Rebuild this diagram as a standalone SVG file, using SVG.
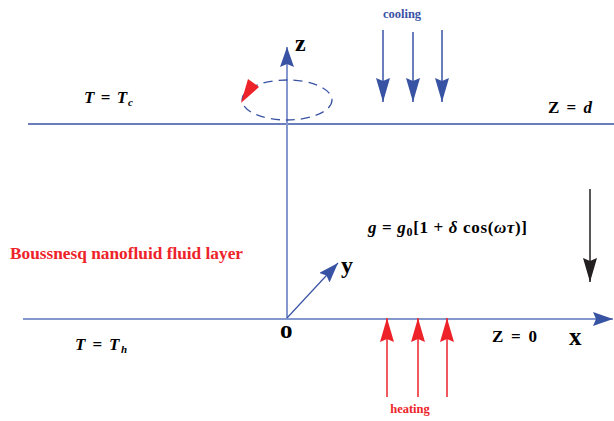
<svg xmlns="http://www.w3.org/2000/svg" width="614" height="421" viewBox="0 0 614 421">
<style>
text{font-family:"Liberation Serif","Times New Roman",serif;font-weight:bold;fill:#000}
.it{font-style:italic}
.blue{fill:#3953a4}
.red{fill:#ee2229}
.ax{stroke:#8497cf;stroke-width:2;fill:none}
.ln{stroke:#3953a4;stroke-width:1.5;fill:none}
.cool{stroke:#3953a4;stroke-width:1.5}
.heat{stroke:#ee2229;stroke-width:1.5}
</style>
<defs>
<marker id="hb" viewBox="0 0 20 14" refX="20" refY="7" markerWidth="20" markerHeight="14" markerUnits="userSpaceOnUse" orient="auto"><path d="M0,0 L20,7 L0,14 L3,7 Z" fill="#3953a4"/></marker>
<marker id="hr" viewBox="0 0 24 14" refX="24" refY="7" markerWidth="24" markerHeight="14" markerUnits="userSpaceOnUse" orient="auto"><path d="M0,0 L24,7 L0,14 L3,7 Z" fill="#ee2229"/></marker>
<marker id="hk" viewBox="0 0 24 14" refX="24" refY="7" markerWidth="24" markerHeight="14" markerUnits="userSpaceOnUse" orient="auto"><path d="M0,0 L24,7 L0,14 L3,7 Z" fill="#231f20"/></marker>
<marker id="hc" viewBox="0 0 24 14" refX="24" refY="7" markerWidth="24" markerHeight="14" markerUnits="userSpaceOnUse" orient="auto"><path d="M0,0 L24,7 L0,14 L3,7 Z" fill="#3953a4"/></marker>
</defs>

<g id="connectors">
<line id="top-boundary" class="ln" x1="28" y1="124" x2="614" y2="124"/>
<line id="x-axis" class="ax" x1="23" y1="319" x2="613" y2="319" marker-end="url(#hb)"/>
<line id="z-axis" class="ax" x1="287" y1="319" x2="287" y2="47" marker-end="url(#hb)"/>
<line id="y-axis" stroke="#3953a4" stroke-width="1.2" x1="287" y1="318" x2="338" y2="263" marker-end="url(#hb)"/>
<ellipse id="rotation" cx="287" cy="100" rx="45" ry="20" fill="none" stroke="#3953a4" stroke-width="1.3" stroke-dasharray="9,6"/>
<path id="rotation-head" d="M241,103 L248,79 L259,87 Z" fill="#ee2229"/>
<line class="cool" x1="383" y1="30" x2="383" y2="102" marker-end="url(#hc)"/>
<line class="cool" x1="413" y1="32" x2="413" y2="102" marker-end="url(#hc)"/>
<line class="cool" x1="442" y1="30" x2="442" y2="102" marker-end="url(#hc)"/>
<line class="heat" x1="387" y1="397" x2="387" y2="318" marker-end="url(#hr)"/>
<line class="heat" x1="418" y1="397" x2="418" y2="318" marker-end="url(#hr)"/>
<line class="heat" x1="447" y1="397" x2="447" y2="318" marker-end="url(#hr)"/>
<line id="gravity" stroke="#231f20" stroke-width="1.5" x1="590" y1="189" x2="590" y2="282" marker-end="url(#hk)"/>
</g>

<g id="label-cooling"><text class="blue" x="402" y="18" font-size="12.5" text-anchor="middle">cooling</text></g>
<g id="label-z"><text x="295" y="51" font-size="24">z</text></g>
<g id="label-Tc"><text x="84" y="103" font-size="17" textLength="49" lengthAdjust="spacing"><tspan class="it">T</tspan> = <tspan class="it">T</tspan><tspan class="it" font-size="11" dy="3">c</tspan></text></g>
<g id="label-Zd"><text x="548" y="113" font-size="17" textLength="44" lengthAdjust="spacing">Z = <tspan class="it">d</tspan></text></g>
<g id="label-g"><text x="368" y="233" font-size="17" textLength="159" lengthAdjust="spacing"><tspan class="it">g</tspan> = <tspan class="it">g</tspan><tspan font-size="12" dy="3">0</tspan><tspan dy="-3">[1 + </tspan><tspan class="it">δ</tspan> cos(<tspan class="it">ωτ</tspan>)]</text></g>
<g id="label-layer"><text class="red" x="10" y="259" font-size="17" textLength="233" lengthAdjust="spacingAndGlyphs">Boussnesq nanofluid fluid layer</text></g>
<g id="label-y"><text x="341" y="273" font-size="24">y</text></g>
<g id="label-o"><text x="280" y="338" font-size="25">o</text></g>
<g id="label-Th"><text x="75" y="350" font-size="17" textLength="52" lengthAdjust="spacing"><tspan class="it">T</tspan> = <tspan class="it">T</tspan><tspan class="it" font-size="11" dy="3">h</tspan></text></g>
<g id="label-Z0"><text x="492" y="342" font-size="17" textLength="45" lengthAdjust="spacing">Z = 0</text></g>
<g id="label-x"><text x="569" y="345" font-size="25">x</text></g>
<g id="label-heating"><text class="red" x="410" y="413" font-size="12.5" text-anchor="middle">heating</text></g>
</svg>
